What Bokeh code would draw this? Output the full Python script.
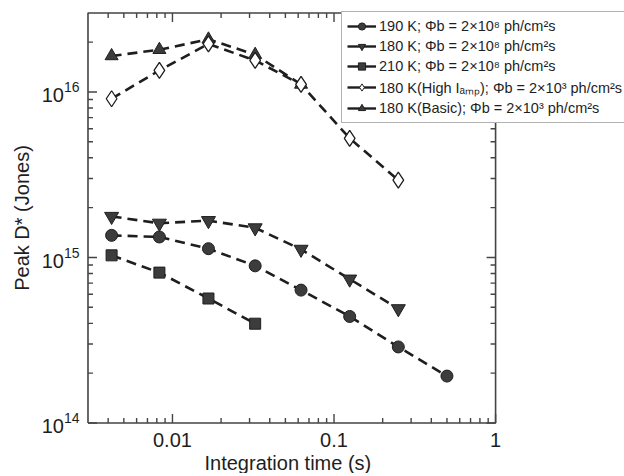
from math import log10
from bokeh.plotting import figure
from bokeh.models import FixedTicker, Legend, LegendItem, Range1d, Title, ColumnDataSource
from bokeh.embed import file_html
from bokeh.resources import INLINE

# Integration times (s)
t_all = [0.0042, 0.0083, 0.0167, 0.0325, 0.0625, 0.125, 0.25, 0.5]

t_190 = t_all
d_190 = [1.36e15, 1.33e15, 1.13e15, 8.9e14, 6.35e14, 4.4e14, 2.88e14, 1.92e14]
t_180 = t_all[:7]
d_180 = [1.77e15, 1.61e15, 1.67e15, 1.51e15, 1.12e15, 7.4e14, 4.9e14]
t_210 = t_all[:4]
d_210 = [1.03e15, 8.1e14, 5.65e14, 3.98e14]
t_high = t_all[:7]
d_high = [9.1e15, 1.35e16, 1.95e16, 1.55e16, 1.11e16, 5.25e15, 2.93e15]
t_basic = t_all[:5]
d_basic = [1.65e16, 1.8e16, 2.08e16, 1.68e16, 1.11e16]

labels = [
    "190 K; Φb = 2×10⁸ ph/cm²s",
    "180 K; Φb = 2×10⁸ ph/cm²s",
    "210 K; Φb = 2×10⁸ ph/cm²s",
    "180 K(High Iₐₘₚ); Φb = 2×10³ ph/cm²s",
    "180 K(Basic); Φb = 2×10³ ph/cm²s",
]

# axis extents and ticks
x_lo, x_hi = 0.003, 1.0
y_lo, y_hi = 1e14, 3e16
x_major = [0.01, 0.1, 1]
x_minor = [k * 10.0**e for e in (-3, -2, -1) for k in range(2, 10) if x_lo < k * 10.0**e < x_hi]
y_major = [1e14, 1e15, 1e16]
y_minor = [k * 10.0**e for e in (14, 15, 16) for k in range(2, 10) if y_lo < k * 10.0**e < y_hi]

FONT = "Liberation Sans"
INK = "#1e1e1e"
FILL = "#3c3c3c"
AX = "#444444"

# frame (plot area) extended to the right so the legend can overhang the axes box
FRAME_W, FRAME_H = 538, 413
X0, X1 = 0.002937, 6.28
Y0, Y1 = 0.979e14, 3.063e16
PX_X = FRAME_W / log10(X1 / X0)   # pixels per decade
PX_Y = FRAME_H / log10(Y1 / Y0)

p = figure(frame_width=FRAME_W, frame_height=FRAME_H, x_axis_type="log", y_axis_type="log",
           x_range=Range1d(X0, X1), y_range=Range1d(Y0, Y1),
           output_backend="svg", toolbar_location=None,
           min_border_left=86, min_border_right=0, min_border_top=11, min_border_bottom=0)
p.grid.visible = False
p.outline_line_color = None
p.background_fill_color = "white"
p.border_fill_color = "white"

def style_axis(ax):
    ax.axis_line_color = None
    ax.major_tick_in = 0
    ax.major_tick_out = 0
    ax.minor_tick_in = 0
    ax.minor_tick_out = 0
    ax.major_label_text_font = FONT
    ax.major_label_text_color = INK
    ax.major_label_text_font_size = "20px"
    ax.axis_label_text_font = FONT
    ax.axis_label_text_font_style = "normal"
    ax.axis_label_text_color = INK
    ax.axis_label_text_font_size = "20px"

xax = p.xaxis[0]
xax.ticker = FixedTicker(ticks=x_major, minor_ticks=[])
xax.major_label_overrides = {0.01: "0.01", 0.1: "0.1", 1: "1"}
style_axis(xax)
xax.major_label_standoff = 8

yax = p.yaxis[0]
yax.ticker = FixedTicker(ticks=y_major, minor_ticks=[])
yax.axis_label = "Peak D* (Jones)"
style_axis(yax)
yax.major_label_standoff = 7
yax.axis_label_standoff = 6

p.add_layout(Title(text="Integration time (s)", align="left", offset=118,
                   text_font=FONT, text_font_size="20px", text_font_style="normal",
                   text_color=INK, standoff=0), "below")

dash = "10 6"
lw = 2.6

p.line(t_190, d_190, line_color=INK, line_width=lw, line_dash=dash)
p.scatter(t_190, d_190, marker="circle", size=12, fill_color=FILL, line_color=INK)
p.line(t_180, d_180, line_color=INK, line_width=lw, line_dash=dash)
p.scatter(t_180, d_180, marker="inverted_triangle", size=14, fill_color=FILL, line_color=INK)
p.line(t_210, d_210, line_color=INK, line_width=lw, line_dash=dash)
p.scatter(t_210, d_210, marker="square", size=11, fill_color=FILL, line_color=INK)
p.line(t_basic, d_basic, line_color=INK, line_width=lw, line_dash=dash)
p.scatter(t_basic, d_basic, marker="triangle", size=13, fill_color=FILL, line_color=INK)
p.line(t_high, d_high, line_color=INK, line_width=lw, line_dash=dash)
p.scatter(t_high, d_high, marker="diamond", size=16, fill_color="white", line_color=INK, line_width=1.3)

# axes box (drawn after the data)
box_x = [x_lo, x_hi, x_hi, x_lo, x_lo]
box_y = [y_lo, y_lo, y_hi, y_hi, y_lo]
p.line(x="x", y="y", source=ColumnDataSource(dict(x=box_x, y=box_y)),
       line_color=AX, line_width=1.6)

# inward ticks on all four sides
xs_t, ys_t = [], []
for ticks, L in ((x_major, 9), (x_minor, 5)):
    fy = 10 ** (L / PX_Y)
    for t in ticks:
        xs_t += [[t, t], [t, t]]
        ys_t += [[y_lo, y_lo * fy], [y_hi, y_hi / fy]]
for ticks, L in ((y_major, 9), (y_minor, 5)):
    fx = 10 ** (L / PX_X)
    for t in ticks:
        xs_t += [[x_lo, x_lo * fx], [x_hi, x_hi / fx]]
        ys_t += [[t, t], [t, t]]
p.multi_line(xs="xs", ys="ys", source=ColumnDataSource(dict(xs=xs_t, ys=ys_t)),
             line_color=AX, line_width=1.4)

# legend glyph stand-ins (solid line with marker), hidden from the plot
g = []
for mk, fc, sz in [("circle", FILL, 11), ("inverted_triangle", FILL, 12), ("square", FILL, 10),
                   ("diamond", "white", 14), ("triangle", FILL, 11)]:
    ln = p.line([0.5], [1e15], line_color=INK, line_width=2.4)
    sc = p.scatter([0.5], [1e15], marker=mk, size=sz, fill_color=fc, line_color=INK)
    ln.visible = False
    sc.visible = False
    g.append([ln, sc])

legend = Legend(items=[LegendItem(label=lab, renderers=rs) for lab, rs in zip(labels, g)],
                location=(255, 301),
                label_text_font=FONT, label_text_font_size="14.5px", label_text_color=INK,
                label_height=18, label_standoff=3, glyph_width=29, glyph_height=18,
                spacing=2, padding=5, margin=0,
                border_line_color="#666666", border_line_width=1.2,
                background_fill_color="white", background_fill_alpha=1.0)
p.add_layout(legend, "center")

open("out.html", "w").write(file_html(p, INLINE))
